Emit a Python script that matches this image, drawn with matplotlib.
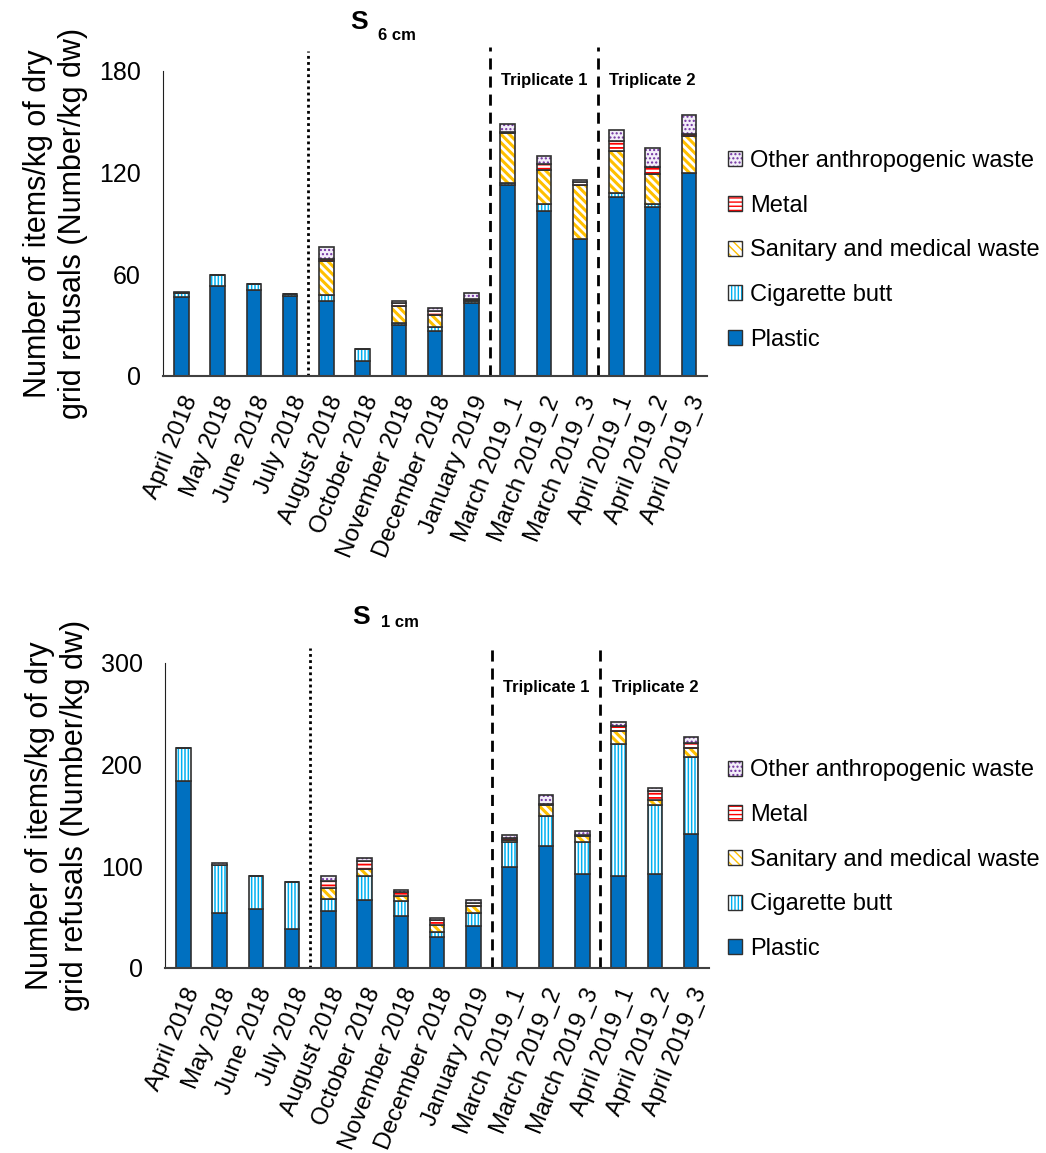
import numpy as np
import matplotlib.pyplot as plt
from matplotlib.patches import Patch

plt.rcParams['font.family'] = ['Liberation Sans', 'DejaVu Sans']

# categories
months = ['April 2018', 'May 2018', 'June 2018', 'July 2018', 'August 2018',
          'October 2018', 'November 2018', 'December 2018', 'January 2019',
          'March 2019_1', 'March 2019_2', 'March 2019_3',
          'April 2019_1', 'April 2019_2', 'April 2019_3']

# S 6 cm
plastic6 = [46.5, 53.0, 50.6, 47.3, 44.3, 8.9, 30.0, 26.2, 43.3, 112.6, 97.3, 80.5, 105.7, 99.4, 119.5]
cig6 = [2.5, 6.7, 3.9, 1.3, 3.3, 7.2, 1.0, 2.4, 1.0, 1.0, 3.9, 0.3, 2.0, 1.8, 0.3]
sanit6 = [0, 0, 0, 0, 20.0, 0, 10.0, 7.3, 0.5, 30.0, 20.3, 31.7, 25.2, 18.0, 22.0]
metal6 = [0, 0, 0, 0, 1.5, 0, 2.0, 2.3, 0.3, 0.3, 3.5, 1.8, 5.7, 4.3, 1.0]
other6 = [0.5, 0, 0, 0, 7.0, 0, 1.0, 1.8, 3.7, 5.0, 5.0, 1.2, 6.5, 11.2, 11.4]

# S 1 cm
plastic1 = [183.6, 54.1, 58.4, 38.4, 55.7, 67.2, 50.8, 30.5, 41.0, 99.0, 120.3, 92.5, 90.8, 92.5, 132.1]
cig1 = [32.8, 47.5, 32.4, 46.2, 12.1, 23.0, 14.8, 4.6, 13.1, 24.6, 28.9, 31.5, 129.2, 67.5, 75.1]
sanit1 = [0, 0, 0, 0, 10.8, 7.5, 5.6, 6.9, 7.2, 2.6, 11.5, 5.6, 12.8, 5.6, 9.2]
metal1 = [0, 0, 0, 0, 6.6, 7.2, 3.6, 4.9, 3.0, 1.6, 0.5, 1.5, 5.6, 8.2, 4.9]
other1 = [0, 2.0, 0, 0, 5.6, 3.6, 2.3, 2.3, 2.2, 3.3, 9.2, 3.3, 3.6, 3.3, 5.9]

names = ['Plastic', 'Cigarette butt', 'Sanitary and medical waste', 'Metal', 'Other anthropogenic waste']
# (face, hatch, hatch colour, hatch linewidth)
styles = [('#0070C0', None, '#0070C0', 1.0),
          ('white', '|||||', '#00B0F0', 1.1),
          ('white', '\\\\\\\\', '#FFC000', 2.2),
          ('white', '----', '#FF0000', 1.3),
          ('#F2EEF8', '....', '#7030A0', 1.0)]
outline = '#303030'

fig = plt.figure(figsize=(10.46, 11.53), dpi=100)


def hatched(fn, hlw, *args, **kw):
    with plt.rc_context({'hatch.linewidth': hlw}):
        res = fn(*args, **kw)
    items = res.patches if hasattr(res, 'patches') else [res]
    for p in items:
        if hasattr(p, 'set_hatch_linewidth'):
            p.set_hatch_linewidth(hlw)
    return res


def draw(ax, series, ymax, step, lines_top, trip_y):
    x = np.arange(len(months))
    bottom = np.zeros(len(months))
    for vals, (fc, hatch, hc, hlw) in zip(series, styles):
        vals = np.array(vals)
        hatched(ax.bar, hlw, x, vals, 0.4, bottom=bottom, color=fc, hatch=hatch,
                edgecolor=hc, linewidth=0)
        ax.bar(x, vals, 0.4, bottom=bottom, fill=False,
               edgecolor=outline, linewidth=1.2)
        bottom += vals
    ax.set_xlim(-0.5, len(months) - 0.5)
    ax.set_ylim(0, ymax)
    ax.set_yticks(np.arange(0, ymax + 1, step))
    ax.set_xticks(x)
    ax.set_xticklabels(months, rotation=68, ha='right', rotation_mode='anchor', fontsize=17.5)
    ax.tick_params(axis='y', length=0, labelsize=18, pad=16)
    ax.tick_params(axis='x', length=0, pad=12)
    for s in ['top', 'right']:
        ax.spines[s].set_visible(False)
    ax.spines['left'].set_color('#202020')
    ax.spines['bottom'].set_color('#404040')
    ax.spines['bottom'].set_linewidth(1.5)
    ax.plot([3.5, 3.5], [0, lines_top], color='black', ls=(0, (1, 1.2)), lw=2, clip_on=False)
    ax.plot([8.5, 8.5], [0, lines_top * 1.01], color='black', ls=(0, (4, 2.5)), lw=2, clip_on=False)
    ax.plot([11.5, 11.5], [0, lines_top * 1.01], color='black', ls=(0, (4, 2.5)), lw=2, clip_on=False)
    ax.text(10, trip_y, 'Triplicate 1', ha='center', va='center', fontsize=12, fontweight='bold')
    ax.text(13, trip_y, 'Triplicate 2', ha='center', va='center', fontsize=12, fontweight='bold')
    ax.set_ylabel('Number of items/kg of dry\ngrid refusals (Number/kg dw)', fontsize=22, labelpad=8)
    handles = []
    for fc, hatch, hc, hlw in styles[::-1]:
        p = hatched(Patch, min(hlw, 1.2), facecolor=fc, hatch=hatch, edgecolor=hc, linewidth=0)
        handles.append((p, Patch(fill=False, edgecolor=outline, linewidth=1.0)))
    return handles


ax1 = fig.add_axes([0.156, 0.674, 0.52, 0.2645])
h = draw(ax1, [plastic6, cig6, sanit6, metal6, other6], 180, 60, 192, 174.5)
fig.legend(h, names[::-1], loc='upper left', bbox_to_anchor=(0.687, 0.878), frameon=False,
           fontsize=17, handlelength=0.6, handleheight=0.6, handletextpad=0.35, labelspacing=0.96,
           borderaxespad=0)
fig.text(0.3346, 0.981, 'S', fontsize=19, fontweight='bold', ha='left', va='center')
fig.text(0.361, 0.969, '6 cm', fontsize=12, fontweight='bold', ha='left', va='center')

ax2 = fig.add_axes([0.158, 0.1605, 0.52, 0.2645])
h = draw(ax2, [plastic1, cig1, sanit1, metal1, other1], 300, 100, 315, 276)
fig.legend(h, names[::-1], loc='upper left', bbox_to_anchor=(0.687, 0.3495), frameon=False,
           fontsize=17, handlelength=0.6, handleheight=0.6, handletextpad=0.35, labelspacing=0.96,
           borderaxespad=0)
fig.text(0.337, 0.465, 'S', fontsize=19, fontweight='bold', ha='left', va='center')
fig.text(0.364, 0.4597, '1 cm', fontsize=12, fontweight='bold', ha='left', va='center')

fig.savefig('out.png', dpi=100)
